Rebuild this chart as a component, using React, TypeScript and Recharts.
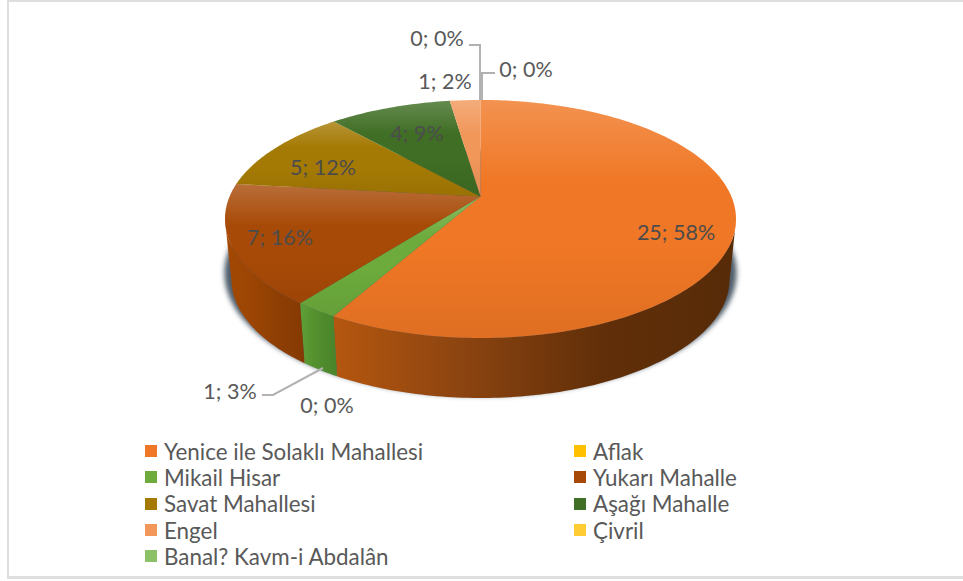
import React from 'react';
import { PieChart, Pie, Legend } from 'recharts';

const categories = ['Yenice ile Solaklı Mahallesi', 'Aflak', 'Mikail Hisar', 'Yukarı Mahalle', 'Savat Mahallesi', 'Aşağı Mahalle', 'Engel', 'Çivril', 'Banal? Kavm-i Abdalân'];
const values = [25, 0, 1, 7, 5, 4, 1, 0, 0];
const percents = [58, 0, 3, 16, 12, 9, 2, 0, 0];
const colors = ['#F07725', '#FFC000', '#6CAB3C', '#A84A07', '#A57A04', '#3F6E24', '#F1975A', '#FFCD33', '#8CC168'];
const wallStops = [
  ['#B5570F', '#8A4310', '#612F09', '#572B08'],
  null,
  ['#5FA038', '#56932F', '#4E8A2D', '#4A842B'],
  ['#A34804', '#9C4504', '#8E3E03', '#853A03'],
];

const data = categories.map((name, i) => ({ name, value: values[i], fill: colors[i] }));

const FONT = 'Lato, Carlito, sans-serif';
const TEXT = '#595959';
const TEXT_ON_PIE = '#4C4C4C';
const SQUASH = 119 / 255.5;
const DEPTH = 60;
const BASE_SCALE = 0.975; // lower rim is a bit narrower than the top one
const APEX_SHIFT = 0.19; // perspective: apex sits above the ellipse centre

// label centres and leader lines, placed by hand like in the original
const labelAt: [number, number][] = [[676, 232], [327, 405], [230, 391], [280, 237], [323, 167], [417, 133], [445, 81], [437, 38], [526, 69]];
const onPie = [0, 3, 4, 5];
const leaders: Record<number, string> = {
  2: '323,368 273,395 262,395',
  7: '480,100 480,45 469,45',
  8: '482,100 482,73 495,73',
};

// true pie angle (recharts degrees) -> point on the tilted rim
function rim(cx: number, cy: number, r: number, deg: number) {
  const t = ((90 - deg) * Math.PI) / 180;
  const u = Math.sin(t);
  const v = -Math.cos(t);
  const k = 1 - APEX_SHIFT * v;
  const nx = (u * Math.sqrt(1 - APEX_SHIFT * APEX_SHIFT)) / k;
  const ny = (v - APEX_SHIFT) / k;
  return { x: cx + r * nx, y: cy + r * SQUASH * ny, front: ny >= -0.001 };
}

function steps(a: number, b: number) {
  const n = Math.max(2, Math.ceil(Math.abs(a - b)));
  return Array.from({ length: n + 1 }, (_, i) => a + ((b - a) * i) / n);
}

const TopFace = (props: any) => {
  const { cx, cy, outerRadius, startAngle, endAngle, fill } = props;
  if (startAngle === endAngle) return null;
  const apexY = cy - outerRadius * SQUASH * APEX_SHIFT;
  const pts = steps(startAngle, endAngle).map((d) => rim(cx, cy, outerRadius, d));
  const d = `M${cx},${apexY} ` + pts.map((p) => `L${p.x},${p.y}`).join(' ') + ' Z';
  return (
    <g>
      <path d={d} fill={fill} />
      <path d={d} fill="url(#faceShade)" />
    </g>
  );
};

const SideWall = (props: any) => {
  const { cx, cy, outerRadius, startAngle, endAngle, index } = props;
  const ry = outerRadius * SQUASH;
  const shadow = index === 0 && (
    <ellipse cx={cx} cy={cy + DEPTH - 6} rx={outerRadius * BASE_SCALE + 7} ry={ry + 4} fill="#4F5D6A" filter="url(#wallBlur)" />
  );
  const pts = steps(startAngle, endAngle).map((d) => rim(cx, cy, outerRadius, d)).filter((p) => p.front);
  if (pts.length < 2) return shadow || null;
  const upper = pts.map((p) => `${p.x},${p.y}`);
  const lower = pts.slice().reverse().map((p) => `${cx + (p.x - cx) * BASE_SCALE},${p.y + DEPTH}`);
  return (
    <g>
      {shadow}
      <path d={`M${upper.join(' L')} L${lower.join(' L')} Z`} fill={`url(#wall${index})`} />
    </g>
  );
};

const renderLabel = (props: any) => {
  const { index } = props;
  const [x, y] = labelAt[index];
  return (
    <g key={index}>
      {leaders[index] && <polyline points={leaders[index]} fill="none" stroke="#B2B2B2" strokeWidth={2} />}
      <text x={x} y={y} textAnchor="middle" dominantBaseline="central" fontFamily={FONT} fontSize={21.5} fill={onPie.includes(index) ? TEXT_ON_PIE : TEXT}>
        {`${values[index]}; ${percents[index]}%`}
      </text>
    </g>
  );
};

const renderLegend = ({ payload }: any) => {
  // both pies report their sectors, keep one row per category
  const rows = categories.map((name) => (payload || []).find((p: any) => p.value === name)).filter(Boolean);
  return (
    <div style={{ display: 'grid', gridTemplateColumns: '429px 1fr', gridAutoRows: '26.3px', fontFamily: FONT, fontSize: 22.4, color: TEXT }}>
      {rows.map((entry: any) => (
        <div key={entry.value} style={{ display: 'flex', alignItems: 'center', whiteSpace: 'nowrap' }}>
          <span style={{ width: 12, height: 12, background: entry.color, marginRight: 7, flex: 'none' }} />
          {entry.value}
        </div>
      ))}
    </div>
  );
};

export default function App() {
  return (
    <div style={{ position: 'absolute', left: 0, top: 0, width: 963, height: 581, background: '#fff' }}>
      <div style={{ position: 'absolute', left: 7, top: 0, width: 956, height: 579, borderLeft: '2px solid #DEDEDE', borderTop: '2px solid #DEDEDE', borderBottom: '3px solid #DEDEDE', boxSizing: 'border-box' }} />
      <PieChart width={963} height={581} margin={{ top: 0, right: 0, bottom: 0, left: 0 }} style={{ position: 'absolute', left: 0, top: 0 }}>
        <defs>
          <linearGradient id="faceShade" x1="0" y1="0" x2="0" y2="1">
            <stop offset="0" stopColor="#fff" stopOpacity={0.2} />
            <stop offset="0.35" stopColor="#fff" stopOpacity={0} />
            <stop offset="0.6" stopColor="#000" stopOpacity={0} />
            <stop offset="1" stopColor="#000" stopOpacity={0.07} />
          </linearGradient>
          <filter id="wallBlur" x="-10%" y="-10%" width="120%" height="120%">
            <feGaussianBlur stdDeviation="2.5" />
          </filter>
          {wallStops.map((stops, i) => stops && (
            <linearGradient key={i} id={`wall${i}`} x1="0" y1="0" x2="1" y2="0">
              {stops.map((c, j) => <stop key={j} offset={j / (stops.length - 1)} stopColor={c} />)}
            </linearGradient>
          ))}
        </defs>
        <Pie
          data={data}
          dataKey="value"
          nameKey="name"
          cx={480.5}
          cy={219}
          outerRadius={255.5}
          startAngle={90}
          endAngle={-270}
          stroke="none"
          shape={SideWall}
          isAnimationActive={false}
        />
        <Pie
          data={data}
          dataKey="value"
          nameKey="name"
          cx={480.5}
          cy={219}
          outerRadius={255.5}
          startAngle={90}
          endAngle={-270}
          stroke="none"
          shape={TopFace}
          label={renderLabel}
          labelLine={false}
          isAnimationActive={false}
        />
        <Legend
          content={renderLegend}
          wrapperStyle={{ position: 'absolute', left: 145, top: 438, width: 700, height: 132 }}
        />
      </PieChart>
    </div>
  );
}
